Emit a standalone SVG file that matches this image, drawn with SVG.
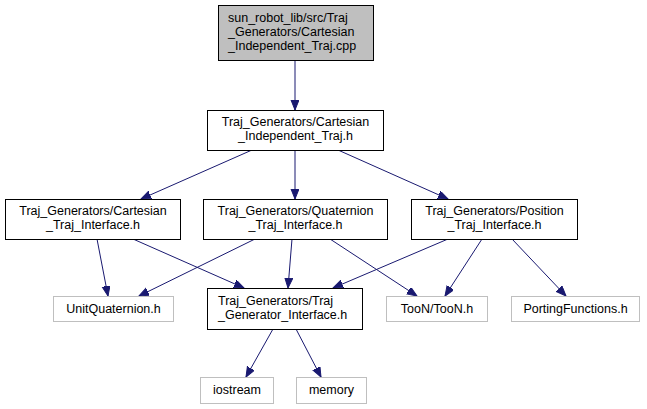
<svg xmlns="http://www.w3.org/2000/svg" width="647" height="409" viewBox="0 0 647 409">
<defs>
<marker id="arr" markerUnits="userSpaceOnUse" markerWidth="12" markerHeight="9" refX="10" refY="4" orient="auto">
<path d="M0,0 L10,4 L0,8 z" fill="#191970" stroke="#191970" stroke-width="1"/>
</marker>
<style>
.n{fill:#ffffff;stroke:#000000;stroke-width:1}
.g{fill:#ffffff;stroke:#bfbfbf;stroke-width:1}
.t{fill:#bfbfbf;stroke:#000000;stroke-width:1}
text{font-family:"Liberation Sans",Arial,Helvetica,sans-serif;font-size:12.5px;fill:#000000}
.c{text-anchor:middle}
.e line{stroke:#191970;stroke-width:1;marker-end:url(#arr)}
</style>
</defs>
<rect width="647" height="409" fill="#ffffff"/>
<g class="e" id="edges">
<line x1="295" y1="60" x2="295" y2="110"/>
<line x1="252" y1="150" x2="141" y2="199"/>
<line x1="295" y1="150" x2="295" y2="199"/>
<line x1="338" y1="150" x2="448" y2="199"/>
<line x1="97" y1="239" x2="108" y2="296"/>
<line x1="133" y1="239" x2="244" y2="288"/>
<line x1="255" y1="239" x2="139" y2="296"/>
<line x1="292" y1="239" x2="288" y2="288"/>
<line x1="330" y1="239" x2="417" y2="296"/>
<line x1="448" y1="239" x2="333" y2="288"/>
<line x1="482" y1="239" x2="445" y2="296"/>
<line x1="512" y1="239" x2="566" y2="296"/>
<line x1="273" y1="329" x2="246" y2="377"/>
<line x1="296" y1="329" x2="321" y2="377"/>
</g>
<g id="node_cpp">
<rect class="t" x="218.5" y="5.5" width="155" height="55"/>
<text x="228" y="22">sun_robot_lib/src/Traj</text>
<text x="228" y="36">_Generators/Cartesian</text>
<text x="228" y="50">_Independent_Traj.cpp</text>
</g>
<g id="node_cart_indep">
<rect class="n" x="207.5" y="110.5" width="176" height="40"/>
<text class="c" x="295.5" y="126">Traj_Generators/Cartesian</text>
<text class="c" x="295.5" y="140">_Independent_Traj.h</text>
</g>
<g id="node_cart_traj">
<rect class="n" x="5.5" y="199.5" width="175" height="40"/>
<text class="c" x="93" y="215">Traj_Generators/Cartesian</text>
<text class="c" x="93" y="229">_Traj_Interface.h</text>
</g>
<g id="node_quat_traj">
<rect class="n" x="203.5" y="199.5" width="184" height="40"/>
<text class="c" x="295.5" y="215">Traj_Generators/Quaternion</text>
<text class="c" x="295.5" y="229">_Traj_Interface.h</text>
</g>
<g id="node_pos_traj">
<rect class="n" x="411.5" y="199.5" width="166" height="40"/>
<text class="c" x="494.5" y="215">Traj_Generators/Position</text>
<text class="c" x="494.5" y="229">_Traj_Interface.h</text>
</g>
<g id="node_unitquat">
<rect class="g" x="53.5" y="296.5" width="120" height="25"/>
<text class="c" x="113.5" y="313">UnitQuaternion.h</text>
</g>
<g id="node_traj_gen">
<rect class="n" x="207.5" y="288.5" width="155" height="41"/>
<text x="218" y="305">Traj_Generators/Traj</text>
<text x="218" y="319">_Generator_Interface.h</text>
</g>
<g id="node_toon">
<rect class="g" x="386.5" y="296.5" width="101" height="25"/>
<text class="c" x="437" y="313">TooN/TooN.h</text>
</g>
<g id="node_porting">
<rect class="g" x="511.5" y="296.5" width="128" height="25"/>
<text class="c" x="575.5" y="313">PortingFunctions.h</text>
</g>
<g id="node_iostream">
<rect class="g" x="200.5" y="377.5" width="73" height="26"/>
<text class="c" x="237" y="394">iostream</text>
</g>
<g id="node_memory">
<rect class="g" x="296.5" y="377.5" width="70" height="26"/>
<text class="c" x="331.5" y="394">memory</text>
</g>
</svg>
